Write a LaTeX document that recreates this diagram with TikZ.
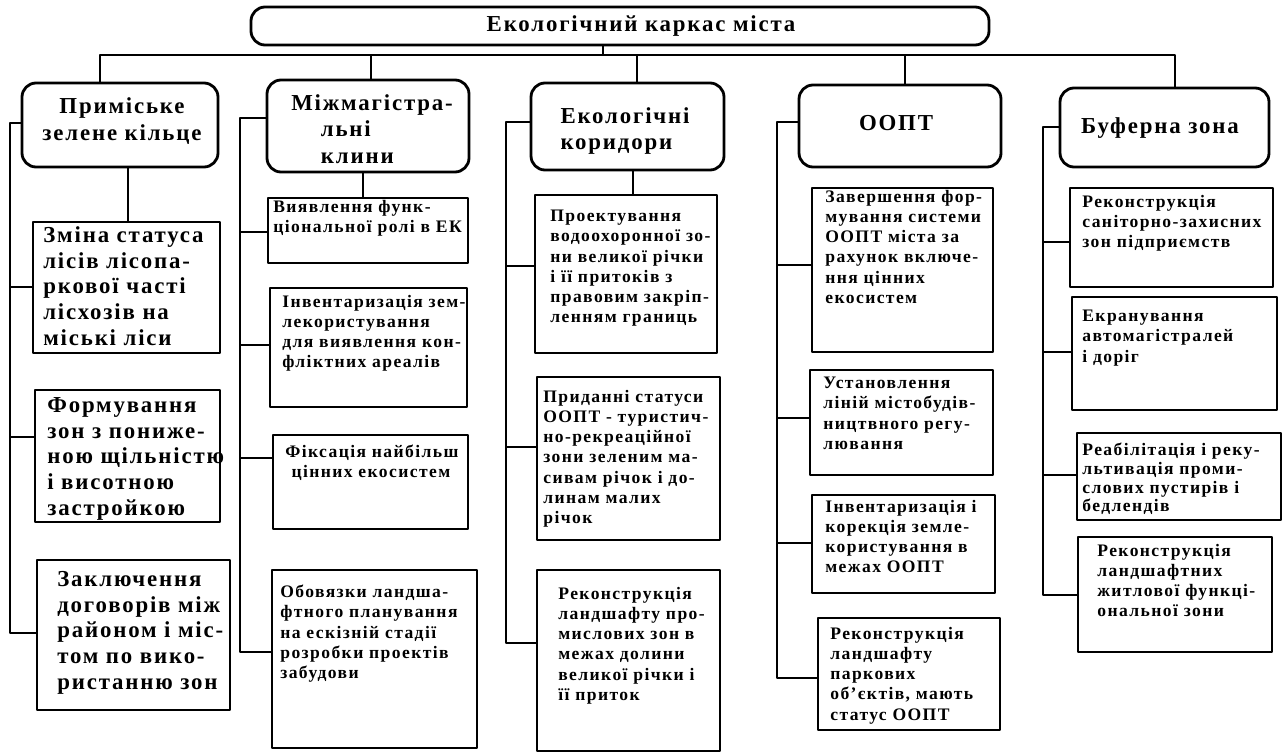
\documentclass[tikz,border=0pt]{standalone}
\usepackage{fontspec}
\setmainfont{Liberation Serif}[LetterSpace=8]
\usetikzlibrary{fit}

\tikzset{
  wire/.style={line width=1.3pt},
  hbox/.style={draw, line width=1.6pt, rounded corners=8pt, inner sep=0pt},
  htxt/.style={inner sep=0pt, align=center, font=\bfseries\fontsize{13}{15}\selectfont},
  leaf/.style={draw, line width=1.6pt, inner sep=0pt},
  txt/.style={anchor=north west, inner sep=0pt, align=left, yshift=7.5pt,
    font=\bfseries\fontsize{10}{11.5}\selectfont, execute at begin node={\rule{0pt}{7.5pt}}},
  bigtxt/.style={anchor=north west, inner sep=0pt, align=left, yshift=9pt,
    font=\bfseries\fontsize{13}{14.6}\selectfont, execute at begin node={\rule{0pt}{9pt}}},
}

\begin{document}
\begin{tikzpicture}[x=0.02cm, y=-0.02cm, line join=round]
\useasboundingbox (0,0) rectangle (1283,754);

% root and the five groups
\node[hbox, fit={(251,7) (989,45)}] (root) {};
\node[hbox, fit={(22,83) (218,167)}] (h1) {};
\node[hbox, fit={(267,80) (469,172)}] (h2) {};
\node[hbox, fit={(531,83) (724,170)}] (h3) {};
\node[hbox, fit={(799,85) (1001,167)}] (h4) {};
\node[hbox, fit={(1060,88) (1269,167)}] (h5) {};
\node[htxt, font=\bfseries\fontsize{13}{15}\selectfont] (root-t) at (641,26) {Екологічний каркас міста};
\node[htxt] (h1-t) at (122,121) {Приміське\\зелене кільце};
\node[htxt, align=left] (h2-t) at (372,129) {Міжмагістра-\\\hspace*{1.3em}льні\\\hspace*{1.3em}клини};
\node[htxt, align=left] (h3-t) at (625,131) {Екологічні\\коридори};
\node[htxt] (h4-t) at (896,123) {ООПТ};
\node[htxt] (h5-t) at (1160,128) {Буферна зона};

\draw[wire] (root.south -| 603,0) -- (603,55);
\draw[wire] (h1.north -| 100,0) -- (100,55) -- (1175,55) -- (h5.north -| 1175,0);
\foreach \x/\h in {371/h2, 637/h3, 905/h4}
  \draw[wire] (\x,55) -- (\h.north -| \x,0);

% column 1
\node[leaf, fit={(33,222) (220,353)}] (l1a) {};
\node[leaf, fit={(35,390) (220,522)}] (l1b) {};
\node[leaf, fit={(37,560) (230,710)}] (l1c) {};
\node[bigtxt] (l1a-t) at (43,242) {Зміна статуса\\лісів лісопа-\\ркової часті\\лісхозів на\\міські ліси};
\node[bigtxt] (l1b-t) at (47,413) {Формування\\зон з пониже-\\ною щільністю\\і висотною\\застройкою};
\node[bigtxt] (l1c-t) at (57,587) {Заключення\\договорів між\\районом і міс-\\том по вико-\\ристанню зон};
\draw[wire] (h1.south -| 128,0) -- (l1a.north -| 128,0);
\draw[wire] (h1.west |- 0,123) -- (10,123) -- (10,633) -- (l1c.west |- 0,633);
\draw[wire] (10,287) -- (l1a.west |- 0,287);
\draw[wire] (10,437) -- (l1b.west |- 0,437);

% column 2
\node[leaf, fit={(268,198) (468,263)}] (l2a) {};
\node[leaf, fit={(270,288) (467,407)}] (l2b) {};
\node[leaf, fit={(273,435) (468,529)}] (l2c) {};
\node[leaf, fit={(272,570) (477,748)}] (l2d) {};
\node[txt] (l2a-t) at (273,213) {Виявлення функ-\\ціональної ролі в ЕК};
\node[txt] (l2b-t) at (282,308) {Інвентаризація зем-\\лекористування\\для виявлення кон-\\фліктних ареалів};
\node[txt] (l2c-t) at (285,458) {Фіксація найбільш\\\hspace*{0.35em}цінних екосистем};
\node[txt] (l2d-t) at (280,598) {Обовязки ландша-\\фтного планування\\на ескізній стадії\\розробки проектів\\забудови};
\draw[wire] (h2.south -| 363,0) -- (l2a.north -| 363,0);
\draw[wire] (h2.west |- 0,118) -- (240,118) -- (240,652) -- (l2d.west |- 0,652);
\draw[wire] (240,232) -- (l2a.west |- 0,232);
\draw[wire] (240,345) -- (l2b.west |- 0,345);
\draw[wire] (240,458) -- (l2c.west |- 0,458);

% column 3
\node[leaf, fit={(535,195) (717,353)}] (l3a) {};
\node[leaf, fit={(537,377) (720,540)}] (l3b) {};
\node[leaf, fit={(537,570) (720,751)}] (l3c) {};
\node[txt] (l3a-t) at (550,223) {Проектування\\водоохоронної зо-\\ни великої річки\\і її притоків з\\правовим закріп-\\ленням границь};
\node[txt] (l3b-t) at (543,403) {Приданні статуси\\ООПТ - туристич-\\но-рекреаційної\\зони зеленим ма-\\сивам річок і до-\\линам малих\\річок};
\node[txt] (l3c-t) at (558,600) {Реконструкція\\ландшафту про-\\мислових зон в\\межах долини\\великої річки і\\її приток};
\draw[wire] (h3.south -| 633,0) -- (l3a.north -| 633,0);
\draw[wire] (h3.west |- 0,122) -- (506,122) -- (506,643) -- (l3c.west |- 0,643);
\draw[wire] (506,266) -- (l3a.west |- 0,266);
\draw[wire] (506,447) -- (l3b.west |- 0,447);

% column 4
\node[leaf, fit={(812,188) (993,352)}] (l4a) {};
\node[leaf, fit={(810,370) (993,475)}] (l4b) {};
\node[leaf, fit={(812,495) (995,593)}] (l4c) {};
\node[leaf, fit={(818,618) (1000,730)}] (l4d) {};
\node[txt] (l4a-t) at (825,203) {Завершення фор-\\мування системи\\ООПТ міста за\\рахунок включе-\\ння цінних\\екосистем};
\node[txt] (l4b-t) at (823,390) {Установлення\\ліній містобудів-\\ництвного регу-\\лювання};
\node[txt] (l4c-t) at (825,513) {Інвентаризація і\\корекція земле-\\користування в\\межах ООПТ};
\node[txt] (l4d-t) at (830,640) {Реконструкція\\ландшафту\\паркових\\об'єктів, мають\\статус ООПТ};
\draw[wire] (h4.west |- 0,122) -- (777,122) -- (777,678) -- (l4d.west |- 0,678);
\draw[wire] (777,265) -- (l4a.west |- 0,265);
\draw[wire] (777,418) -- (l4b.west |- 0,418);
\draw[wire] (777,543) -- (l4c.west |- 0,543);

% column 5
\node[leaf, fit={(1070,188) (1273,287)}] (l5a) {};
\node[leaf, fit={(1072,297) (1277,410)}] (l5b) {};
\node[leaf, fit={(1077,433) (1281,520)}] (l5c) {};
\node[leaf, fit={(1078,537) (1272,652)}] (l5d) {};
\node[txt] (l5a-t) at (1082,208) {Реконструкція\\саніторно-захисних\\зон підприємств};
\node[txt] (l5b-t) at (1082,323) {Екранування\\автомагістралей\\і доріг};
\node[txt, font=\bfseries\fontsize{10}{10.6}\selectfont] (l5c-t) at (1082,456) {Реабілітація і реку-\\льтивація проми-\\слових пустирів і\\бедлендів};
\node[txt] (l5d-t) at (1097,557) {Реконструкція\\ландшафтних\\житлової функці-\\ональної зони};
\draw[wire] (h5.west |- 0,127) -- (1043,127) -- (1043,595) -- (l5d.west |- 0,595);
\draw[wire] (1043,242) -- (l5a.west |- 0,242);
\draw[wire] (1043,352) -- (l5b.west |- 0,352);
\draw[wire] (1043,475) -- (l5c.west |- 0,475);
\end{tikzpicture}
\end{document}
